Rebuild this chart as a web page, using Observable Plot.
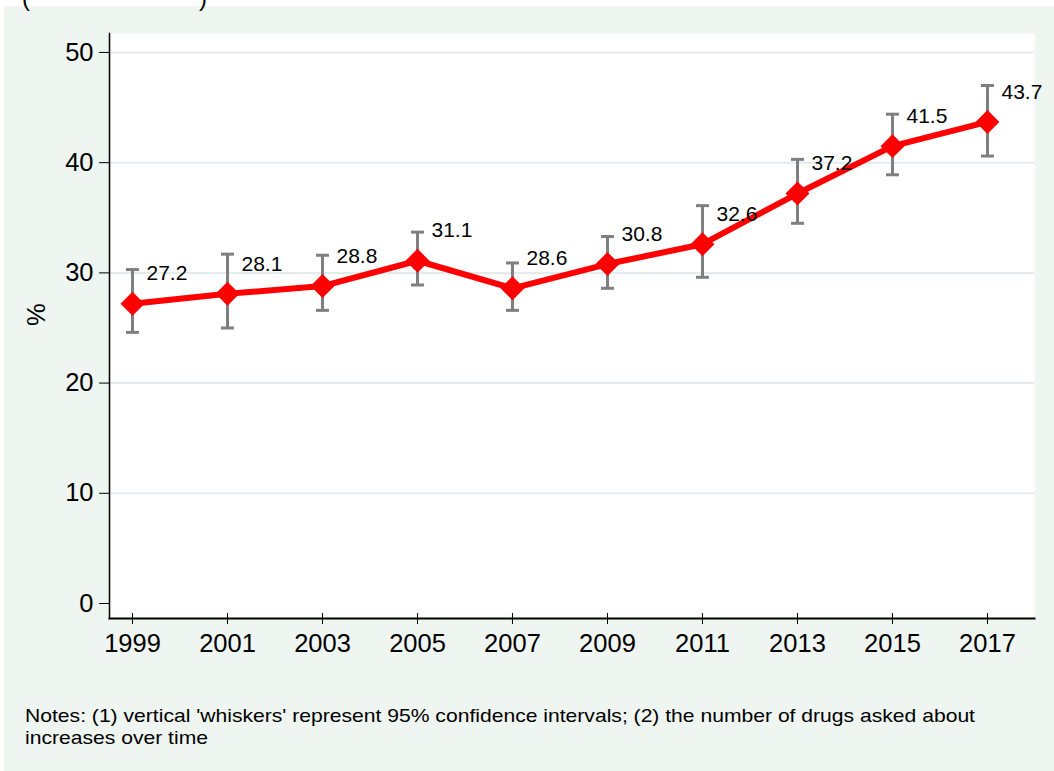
<!DOCTYPE html>
<html>
<head>
<meta charset="utf-8">
<script src="https://cdn.jsdelivr.net/npm/d3@7"></script>
<script src="https://cdn.jsdelivr.net/npm/@observablehq/plot@0.6"></script>
<style>
  html, body { margin: 0; padding: 0; background: #ffffff; }
  body { width: 1054px; height: 771px; position: relative; overflow: hidden; font-family: "Liberation Sans", Arial, sans-serif; }
  #panel { position: absolute; left: 4px; top: 6px; right: 0; bottom: 0; background: #eff5f0; }
  #chart { position: absolute; left: 0; top: 0; }
  #notes { position: absolute; left: 25px; top: 705px; font-size: 18.6px; line-height: 22px; color: #000; white-space: nowrap; transform: scaleX(1.135); transform-origin: 0 0; }
  .paren { position: absolute; top: -14px; font-size: 24px; line-height: 24px; color: #000; }
</style>
</head>
<body>
<div id="panel"></div>
<span class="paren" style="left:22px">(</span>
<span class="paren" style="left:199px">)</span>
<div id="chart"></div>
<div id="notes">Notes: (1) vertical 'whiskers' represent 95% confidence intervals; (2) the number of drugs asked about<br>increases over time</div>
<script>
const years = [1999, 2001, 2003, 2005, 2007, 2009, 2011, 2013, 2015, 2017];
const values = [27.2, 28.1, 28.8, 31.1, 28.6, 30.8, 32.6, 37.2, 41.5, 43.7];
const lower = [24.6, 25.0, 26.6, 28.9, 26.6, 28.6, 29.6, 34.5, 38.9, 40.6];
const upper = [30.3, 31.7, 31.6, 33.7, 30.9, 33.3, 36.1, 40.3, 44.4, 47.0];
const yTicks = [0, 10, 20, 30, 40, 50];
const gridTicks = [10, 20, 30, 40, 50];
const yLabel = "%";

const data = years.map((year, i) => ({year, value: values[i], lo: lower[i], hi: upper[i]}));

const capSymbol = {
  draw(context, size) {
    const w = Math.sqrt(size);
    context.moveTo(-w / 2, 0);
    context.lineTo(w / 2, 0);
  }
};

const W = 1054, H = 690, mT = 33, mB = 72, mL = 109, mR = 20;
const innerH = H - mT - mB;

const chart = Plot.plot({
  width: W,
  height: H,
  marginTop: mT,
  marginBottom: mB,
  marginLeft: mL,
  marginRight: mR,
  style: {background: "transparent", fontFamily: "'Liberation Sans', Arial, sans-serif", color: "#000"},
  x: {domain: [1998.516, 2017.99]},
  y: {domain: [-1.36, 51.72]},
  marks: [
    Plot.frame({fill: "white", stroke: null}),
    Plot.gridY(gridTicks, {stroke: "#e3ebed", strokeOpacity: 1, strokeWidth: 2}),
    Plot.frame({anchor: "left", stroke: "#000", strokeWidth: 1.5}),
    Plot.frame({anchor: "bottom", stroke: "#000", strokeWidth: 2}),
    Plot.axisY(yTicks, {tickSize: 10, tickPadding: 6, fontSize: 25.5, label: null, tickFormat: d => String(d), stroke: "#000", fill: "#000"}),
    Plot.axisX(years, {tickSize: 6, tickPadding: 9, fontSize: 25.5, label: null, tickFormat: d => String(d), stroke: "#000", fill: "#000"}),
    Plot.tickX(years, {x: d => d, stroke: "#000", strokeWidth: 1, insetTop: innerH - 5, insetBottom: 0}),
    Plot.text([yLabel], {frameAnchor: "left", text: d => d, rotate: -90, dx: -73, fontSize: 25.5, fill: "#000"}),
    Plot.ruleX(data, {x: "year", y1: "lo", y2: "hi", stroke: "#7f7f7f", strokeWidth: 3}),
    Plot.dot(data, {x: "year", y: "lo", symbol: capSymbol, r: 7.3, stroke: "#7f7f7f", strokeWidth: 3, fill: "none"}),
    Plot.dot(data, {x: "year", y: "hi", symbol: capSymbol, r: 7.3, stroke: "#7f7f7f", strokeWidth: 3, fill: "none"}),
    Plot.line(data, {x: "year", y: "value", stroke: "#ff0000", strokeWidth: 6, strokeLinejoin: "round"}),
    Plot.dot(data, {x: "year", y: "value", symbol: "diamond2", r: 10.8, fill: "#ff0000", stroke: null}),
    Plot.text(data, {x: "year", y: "value", text: d => d.value.toFixed(1), dx: 14, dy: -30, textAnchor: "start", fontSize: 21, fill: "#000"})
  ]
});
document.getElementById("chart").appendChild(chart);
</script>
</body>
</html>
